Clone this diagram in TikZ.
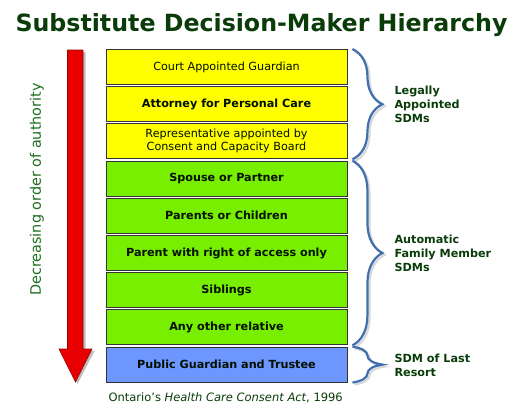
\documentclass[tikz,border=0pt]{standalone}
\usepackage{fontspec}
\setmainfont{DejaVu Sans}
\usepackage{tikz}
\usetikzlibrary{arrows.meta,positioning,calc,decorations.pathreplacing}

\definecolor{titlegreen}{RGB}{10,60,10}
\definecolor{sidegreen}{RGB}{30,110,30}
\definecolor{boxyellow}{RGB}{255,255,0}
\definecolor{boxgreen}{RGB}{120,238,0}
\definecolor{boxblue}{RGB}{110,150,255}
\definecolor{bracebl}{RGB}{65,110,175}
\definecolor{arrowred}{RGB}{232,0,0}

\begin{document}
\begin{tikzpicture}[x=1pt, y=-1pt,
  lvl/.style={draw=black!80, line width=0.9pt, minimum width=241pt, minimum height=35pt,
    inner sep=0pt, align=center, text=black!85!green!40!black, font=\fontsize{11.2}{13}\selectfont},
  lvlb/.style={lvl, font=\fontsize{11.2}{13}\selectfont\bfseries},
  brc/.style={decorate, decoration={brace, amplitude=30pt}, draw=bracebl, line width=2.2pt},
  brcshadow/.style={brc, draw=black!25, opacity=0.6},
  grp/.style={anchor=west, align=left, text=titlegreen, font=\fontsize{11.2}{14}\selectfont\bfseries}]
\useasboundingbox[fill=white] (0,0) rectangle (524,416);
\node[text=titlegreen, font=\fontsize{23.7}{28}\selectfont\bfseries] (title) at (261.5,25) {Substitute Decision-Maker Hierarchy};
% the levels, top to bottom
\node[lvl, fill=boxyellow] (court) at (226.5,67) {Court Appointed Guardian};
\node[lvlb, fill=boxyellow] (attorney) at (226.5,104.2) {Attorney for Personal Care};
\node[lvl, fill=boxyellow] (repr) at (226.5,141.4) {Representative appointed by\\Consent and Capacity Board};
\node[lvlb, fill=boxgreen] (spouse) at (226.5,178.6) {Spouse or Partner};
\node[lvlb, fill=boxgreen] (parents) at (226.5,215.8) {Parents or Children};
\node[lvlb, fill=boxgreen] (access) at (226.5,253) {Parent with right of access only};
\node[lvlb, fill=boxgreen] (siblings) at (226.5,290.2) {Siblings};
\node[lvlb, fill=boxgreen] (other) at (226.5,327.4) {Any other relative};
\node[lvlb, fill=boxblue] (public) at (226.5,364.6) {Public Guardian and Trustee};
% authority arrow
\fill[black!25] (69.5,52) -- (85.5,52) -- (85.5,351) -- (94.5,351) -- (77.5,384) -- (61.5,351) -- (69.5,351) -- cycle;
\draw[draw=red!60!black, fill=arrowred, line width=0.6pt] (67.5,50) -- (83,50) -- (83,349) -- (92,349) -- (75.5,382) -- (59,349) -- (67.5,349) -- cycle;
\node[rotate=90, text=sidegreen, font=\fontsize{14.4}{16}\selectfont] (order) at (37,189.5) {Decreasing order of authority};
% braces
\foreach \a/\b in {court/repr, spouse/other, public/public}{
  \draw[brcshadow] ([xshift=7pt,yshift=-2pt]\a.north east) -- ([xshift=7pt,yshift=-2pt]\b.south east);
  \draw[brc] ([xshift=5pt]\a.north east) -- ([xshift=5pt]\b.south east);}
\node[grp] (legal) at (391,104) {Legally\\Appointed\\SDMs};
\node[grp] (family) at (391,253) {Automatic\\Family Member\\SDMs};
\node[grp] (resort) at (391,365) {SDM of Last\\Resort};
\node[text=titlegreen, font=\fontsize{11.5}{13}\selectfont, anchor=west] (act) at (105,398) {Ontario's \textit{Health Care Consent Act}, 1996};
\end{tikzpicture}
\end{document}
